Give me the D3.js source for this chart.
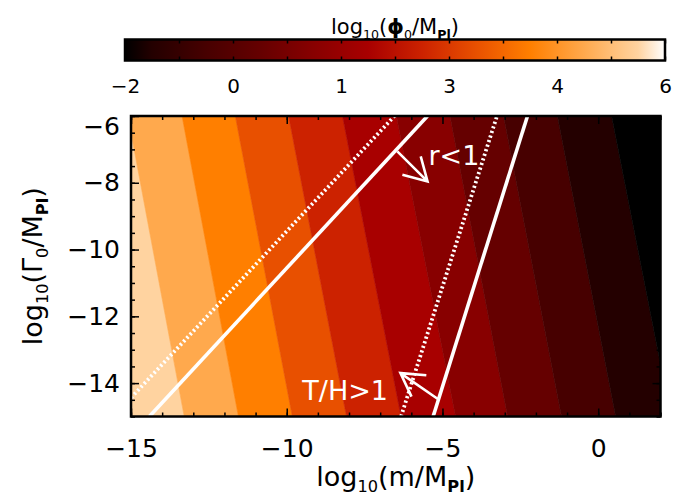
<!DOCTYPE html>
<html>
<head>
<meta charset="utf-8">
<script src="https://cdn.jsdelivr.net/npm/d3@7"></script>
<style>
  body { margin: 0; background: #fff; }
  text { font-family: "DejaVu Sans", sans-serif; }
</style>
</head>
<body>
<div id="chart"></div>
<script>
// contour levels of log10(phi0/MPl), left -> right
const levels = [5.2, 4.4, 3.6, 2.8, 2.0, 1.2, 0.4, -0.4, -1.2, -2.0];
// where each level crosses the top (Gamma0 = -6) and bottom (Gamma0 = -15) edge, in log10(m/MPl)
const edgeTop    = [-15.10, -13.36, -11.65, -9.94, -8.21, -6.48, -4.76, -3.04, -1.31, 0.43];
const edgeBottom = [-13.29, -11.55, -9.82, -8.08, -6.33, -4.58, -2.91, -1.18, 0.56, 2.33];

// constraint lines [log m, log Gamma]
const rSolid  = [[-14.41, -15], [-5.48, -6]];
const rDotted = [[-15.00, -14.44], [-6.54, -6]];
const thSolid = [[-5.30, -15], [-2.27, -6]];
const thDotted = [[-6.33, -15], [-3.25, -6]];

const arrows = [
  { from: [-6.45, -7.06], to: [-5.48, -7.96] },
  { from: [-5.16, -14.47], to: [-6.35, -13.70] }
];
const notes = [
  { text: "r<1", at: [-5.45, -7.48] },
  { text: "T/H>1", at: [-9.50, -14.50] }
];

const xTicks = [-15, -10, -5, 0];
const yTicks = [-14, -12, -10, -8, -6];
const cbTicks = [-2, -1.2, -0.4, 0.4, 1.2, 2.0, 2.8, 3.6, 4.4, 5.2, 6];

// colour table (red temperature like)
const cmapVals = [-2, -1.6, -0.8, 0, 0.8, 1.6, 2.4, 3.2, 4.0, 4.8, 5.6, 6];
const cmapCols = ["#000000", "#240000", "#470000", "#650000", "#880000", "#a80000",
                  "#cc2200", "#e85000", "#ff7f00", "#ffa94d", "#ffd3a0", "#ffffff"];

const W = 700, H = 500;
const svg = d3.select("#chart").append("svg").attr("width", W).attr("height", H);

const x = d3.scaleLinear().domain([-15, 2]).range([131, 660.5]);
const y = d3.scaleLinear().domain([-15, -6]).range([416.5, 116]);
const cb = d3.scaleLinear().domain([-2, 6]).range([125, 665]);
const color = d3.scaleLinear().domain(cmapVals).range(cmapCols).clamp(true);

// rich text helper: parts = [{t, sub, bold}]
function rich(sel, parts, size) {
  parts.forEach((p, i) => {
    const prevSub = i > 0 && parts[i - 1].sub;
    let dy = 0;
    if (p.sub && !prevSub) dy = size * 0.22;
    if (!p.sub && prevSub) dy = -size * 0.22;
    sel.append("tspan")
      .attr("dy", dy)
      .attr("font-size", p.sub ? size * 0.6 : size)
      .attr("font-weight", p.bold ? "bold" : null)
      .text(p.t);
  });
}

// ---- plot area ----
svg.append("clipPath").attr("id", "plotclip").append("rect")
  .attr("x", x(-15)).attr("y", y(-6))
  .attr("width", x(2) - x(-15)).attr("height", y(-15) - y(-6));

const g = svg.append("g").attr("clip-path", "url(#plotclip)");

const nb = levels.length;
const [x0, x1] = x.domain();
const bands = d3.range(nb + 1).map(i => {
  const left = i === 0 ? [x0 - 3, x0 - 3] : [edgeTop[i - 1], edgeBottom[i - 1]];
  const right = i === nb ? [x1 + 3, x1 + 3] : [edgeTop[i], edgeBottom[i]];
  const v = i === 0 ? (levels[0] + cb.domain()[1]) / 2
          : i === nb ? levels[nb - 1]
          : (levels[i - 1] + levels[i]) / 2;
  return { pts: [[left[0], -6], [right[0], -6], [right[1], -15], [left[1], -15]], v };
});

g.selectAll("path.band")
  .data(bands)
  .join("path")
  .attr("class", "band")
  .attr("d", d => "M" + d.pts.map(p => [x(p[0]), y(p[1])]).join("L") + "Z")
  .attr("fill", d => color(d.v))
  .attr("stroke", d => color(d.v))
  .attr("stroke-width", 0.6);

const line = d3.line().x(d => x(d[0])).y(d => y(d[1]));
[rSolid, thSolid].forEach(l => {
  g.append("path").attr("d", line(l)).attr("fill", "none")
    .attr("stroke", "#fff").attr("stroke-width", 3.6);
});
[rDotted, thDotted].forEach(l => {
  g.append("path").attr("d", line(l)).attr("fill", "none")
    .attr("stroke", "#fff").attr("stroke-width", 3.8)
    .attr("stroke-dasharray", "2.2,2.6");
});

// arrows
arrows.forEach(a => {
  const sx = x(a.from[0]), sy = y(a.from[1]);
  const tx = x(a.to[0]), ty = y(a.to[1]);
  const ang = Math.atan2(sy - ty, sx - tx);
  const hl = 26, ha = Math.PI / 6;
  const path = d3.path();
  path.moveTo(sx, sy); path.lineTo(tx, ty);
  path.moveTo(tx + hl * Math.cos(ang + ha), ty + hl * Math.sin(ang + ha));
  path.lineTo(tx, ty);
  path.lineTo(tx + hl * Math.cos(ang - ha), ty + hl * Math.sin(ang - ha));
  g.append("path").attr("d", path.toString()).attr("fill", "none")
    .attr("stroke", "#fff").attr("stroke-width", 2.6);
});

g.selectAll("text.note")
  .data(notes)
  .join("text")
  .attr("class", "note")
  .attr("x", d => x(d.at[0]))
  .attr("y", d => y(d.at[1]))
  .attr("fill", "#fff")
  .attr("font-size", 27)
  .text(d => d.text);

// axes, ticks pointing inward
const ax = svg.append("g");
ax.append("g").attr("transform", `translate(0,${y(-15)})`)
  .call(d3.axisBottom(x).tickValues(d3.range(-15, 3, 1)).tickSize(-4).tickFormat(""));
ax.append("g").attr("transform", `translate(0,${y(-15)})`)
  .call(d3.axisBottom(x).tickValues(xTicks).tickSize(-8).tickPadding(23))
  .call(s => s.selectAll("text").attr("font-size", 25));
ax.append("g").attr("transform", `translate(0,${y(-6)})`)
  .call(d3.axisTop(x).tickValues(d3.range(-15, 3, 1)).tickSize(-4).tickFormat(""));
ax.append("g").attr("transform", `translate(0,${y(-6)})`)
  .call(d3.axisTop(x).tickValues(xTicks).tickSize(-8).tickFormat(""));

ax.append("g").attr("transform", `translate(${x(-15)},0)`)
  .call(d3.axisLeft(y).tickValues(d3.range(-15, -5.9, 0.5)).tickSize(-4).tickFormat(""));
ax.append("g").attr("transform", `translate(${x(-15)},0)`)
  .call(d3.axisLeft(y).tickValues(yTicks).tickSize(-8).tickPadding(11))
  .call(s => s.selectAll("text").attr("font-size", 25))
  .call(s => s.selectAll(".tick").filter(d => d === y.domain()[1]).select("text").attr("dy", "0.72em"));
ax.append("g").attr("transform", `translate(${x(2)},0)`)
  .call(d3.axisRight(y).tickValues(d3.range(-15, -5.9, 0.5)).tickSize(-4).tickFormat(""));
ax.append("g").attr("transform", `translate(${x(2)},0)`)
  .call(d3.axisRight(y).tickValues(yTicks).tickSize(-8).tickFormat(""));

ax.selectAll(".domain").remove();
ax.selectAll(".tick line").attr("stroke", "#000").attr("stroke-width", 1.5);
ax.selectAll("text").attr("fill", "#000").attr("font-family", "DejaVu Sans, sans-serif");

svg.append("rect")
  .attr("x", x(-15)).attr("y", y(-6))
  .attr("width", x(2) - x(-15)).attr("height", y(-15) - y(-6))
  .attr("fill", "none").attr("stroke", "#000").attr("stroke-width", 2.5);

// axis titles
const xt = svg.append("text").attr("x", (x(-15) + x(2)) / 2).attr("y", 486)
  .attr("text-anchor", "middle").attr("fill", "#000");
rich(xt, [{ t: "log" }, { t: "10", sub: true }, { t: "(m/M" }, { t: "Pl", sub: true, bold: true }, { t: ")" }], 27);

const yt = svg.append("text")
  .attr("transform", `translate(42,${(y(-15) + y(-6)) / 2}) rotate(-90)`)
  .attr("text-anchor", "middle").attr("fill", "#000");
rich(yt, [{ t: "log" }, { t: "10", sub: true }, { t: "(Γ" }, { t: "0", sub: true }, { t: "/M" }, { t: "Pl", sub: true, bold: true }, { t: ")" }], 27);

// ---- colour bar ----
const cbTop = 39.5, cbBot = 60.5;
const grad = svg.append("defs").append("linearGradient").attr("id", "cbgrad");
grad.selectAll("stop")
  .data(cmapVals)
  .join("stop")
  .attr("offset", d => (d - cb.domain()[0]) / (cb.domain()[1] - cb.domain()[0]))
  .attr("stop-color", d => color(d));

svg.append("rect")
  .attr("x", cb(-2)).attr("y", cbTop)
  .attr("width", cb(6) - cb(-2)).attr("height", cbBot - cbTop)
  .attr("fill", "url(#cbgrad)");

const cbx = svg.append("g");
cbx.append("g").attr("transform", `translate(0,${cbBot})`)
  .call(d3.axisBottom(cb).tickValues(cbTicks).tickSize(-4).tickPadding(18)
    .tickFormat((d, i) => i % 2 === 0 ? d3.format("d")(Math.round(d) + 0) : ""))
  .call(s => s.selectAll("text").attr("font-size", 20));
cbx.append("g").attr("transform", `translate(0,${cbTop})`)
  .call(d3.axisTop(cb).tickValues(cbTicks).tickSize(-4).tickFormat(""));
cbx.selectAll(".domain").remove();
cbx.selectAll(".tick line").attr("stroke", "#000").attr("stroke-width", 1.5);
cbx.selectAll("text").attr("fill", "#000").attr("font-family", "DejaVu Sans, sans-serif");

svg.append("rect")
  .attr("x", cb(-2)).attr("y", cbTop)
  .attr("width", cb(6) - cb(-2)).attr("height", cbBot - cbTop)
  .attr("fill", "none").attr("stroke", "#000").attr("stroke-width", 2.5);

const ct = svg.append("text").attr("x", (cb(-2) + cb(6)) / 2).attr("y", 34)
  .attr("text-anchor", "middle").attr("fill", "#000");
rich(ct, [{ t: "log" }, { t: "10", sub: true }, { t: "(" }, { t: "ϕ", bold: true }, { t: "0", sub: true }, { t: "/M" }, { t: "Pl", sub: true, bold: true }, { t: ")" }], 21);
</script>
</body>
</html>
